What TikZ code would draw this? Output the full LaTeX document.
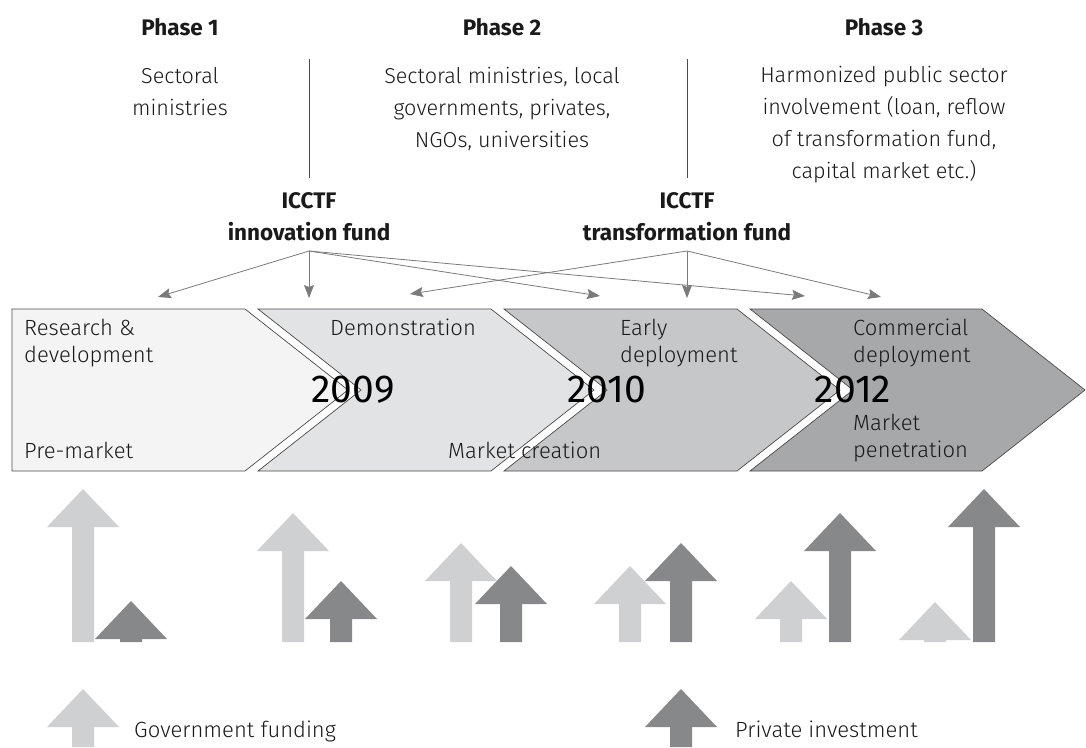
\documentclass[tikz,border=0pt]{standalone}
\usepackage{fontspec}
\setmainfont{Fira Sans}[UprightFont={* Light}, BoldFont={* Bold}]
\newfontfamily\yearfont{Fira Sans}
\usetikzlibrary{arrows.meta}
\definecolor{govc}{HTML}{CFD0D2}
\definecolor{privc}{HTML}{878889}
\definecolor{chA}{HTML}{F4F4F4}
\definecolor{chB}{HTML}{E2E3E4}
\definecolor{chC}{HTML}{C6C7C9}
\definecolor{chD}{HTML}{A7A8AA}
\definecolor{lineg}{HTML}{7A7A7A}
\definecolor{edgeg}{HTML}{4A4A4A}
\definecolor{txtc}{HTML}{1A1A1A}
\newcommand{\fundarrow}[4]{%
  \fill[#4] (#1-11,#3) -- (#1-11,#2+38) -- (#1-36,#2+38) -- (#1,#2) --
    (#1+36,#2+38) -- (#1+11,#2+38) -- (#1+11,#3) -- cycle;}
\begin{document}
\begin{tikzpicture}[x=1pt,y=-1pt,
  body/.style={inner sep=0pt, text=txtc, font=\fontsize{21.6}{32}\selectfont},
  head/.style={inner sep=0pt, text=txtc, font=\bfseries\fontsize{22.5}{32}\selectfont},
  ctext/.style={inner sep=0pt, text=txtc, font=\fontsize{22}{27}\selectfont},
  year/.style={inner sep=0pt, text=black, font=\yearfont\fontsize{39}{40}\selectfont},
  divider/.style={draw=edgeg, line width=0.8pt},
  fundline/.style={draw=lineg, line width=0.8pt, -{Stealth[length=13pt,width=10pt,inset=2pt]}},
  chev/.style={draw=edgeg, line width=0.7pt, line join=miter}
]
\useasboundingbox (0,0) rectangle (1086,747);

% chevrons
\path[chev, fill=chA] (12,309) -- (245,309) -- (348,390) -- (245,471) -- (12,471) -- cycle;
\path[chev, fill=chB] (258,309) -- (491,309) -- (594,390) -- (491,471) -- (258,471) -- (361,390) -- cycle;
\path[chev, fill=chC] (504,309) -- (737,309) -- (840,390) -- (737,471) -- (504,471) -- (607,390) -- cycle;
\path[chev, fill=chD] (750,309) -- (982,309) -- (1085,390) -- (982,471) -- (750,471) -- (853,390) -- cycle;

% top texts (base anchor = baseline of last line)
\node[head, anchor=base] (ph1) at (180,35) {Phase 1};
\node[head, anchor=base] (ph2) at (502,35) {Phase 2};
\node[head, anchor=base] (ph3) at (884,35) {Phase 3};
\node[body, anchor=base, align=center] (ac1) at (180,115) {Sectoral\\ministries};
\node[body, anchor=base, align=center] (ac2) at (502,147) {Sectoral ministries, local\\governments, privates,\\NGOs, universities};
\node[body, anchor=base, align=center] (ac3) at (884,178) {Harmonized public sector\\involvement (loan, reflow\\of transformation fund,\\capital market etc.)};

\coordinate (v1t) at (309,59); \coordinate (v1b) at (309,178);
\coordinate (v2t) at (687,59); \coordinate (v2b) at (687,178);
\draw[divider] (v1t) -- (v1b);
\draw[divider] (v2t) -- (v2b);

\node[head, anchor=base, align=center] (innov) at (309,240) {ICCTF\\innovation fund};
\node[head, anchor=base, align=center] (trans) at (687,240) {ICCTF\\transformation fund};

% fund arrows
\coordinate (io) at (309,251);
\coordinate (to) at (687,251);
\coordinate (i1) at (158,297);
\coordinate (i2) at (309,298);
\coordinate (i3) at (600,296);
\coordinate (i4) at (805,296);
\coordinate (t1) at (410,294);
\coordinate (t2) at (687,298);
\coordinate (t3) at (881,297);
\draw[fundline] (io) -- (i1);
\draw[fundline] (io) -- (i2);
\draw[fundline] (io) -- (i3);
\draw[fundline] (io) -- (i4);
\draw[fundline] (to) -- (t1);
\draw[fundline] (to) -- (t2);
\draw[fundline] (to) -- (t3);

% chevron texts
\node[ctext, anchor=base west, align=left] (rd) at (24,362) {Research \&\\development};
\node[ctext, anchor=base west] (pm) at (24,458) {Pre-market};
\node[ctext, anchor=base west] (demo) at (330,335) {Demonstration};
\node[ctext, anchor=base west] (mc) at (448,458) {Market creation};
\node[ctext, anchor=base west, align=left] (ed) at (620,362) {Early\\deployment};
\node[ctext, anchor=base west, align=left] (cd) at (853,362) {Commercial\\deployment};
\node[ctext, anchor=base west, align=left] (mp) at (853,457) {Market\\penetration};
\node[year, anchor=base] (y1) at (353,402) {2009};
\node[year, anchor=base] (y2) at (607,402) {2010};
\node[year, anchor=base] (y3) at (853,402) {2012};

% funding arrows
\fundarrow{83}{489}{642}{govc}
\fundarrow{131}{601}{642}{privc}
\fundarrow{293}{513}{642}{govc}
\fundarrow{341}{581}{642}{privc}
\fundarrow{461}{543}{642}{govc}
\fundarrow{511}{566}{642}{privc}
\fundarrow{630}{566}{642}{govc}
\fundarrow{681}{543}{642}{privc}
\fundarrow{791}{581}{642}{govc}
\fundarrow{840}{513}{642}{privc}
\fundarrow{935}{602}{642}{govc}
\fundarrow{984}{489}{642}{privc}

% legend
\fundarrow{83}{689}{747}{govc}
\fundarrow{681}{689}{747}{privc}
\node[ctext, anchor=base west] (gf) at (134,737) {Government funding};
\node[ctext, anchor=base west] (pi) at (735,737) {Private investment};
\end{tikzpicture}
\end{document}
